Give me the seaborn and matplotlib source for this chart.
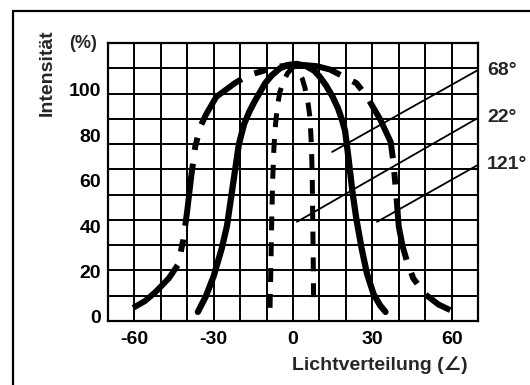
import numpy as np
import pandas as pd
import matplotlib.pyplot as plt
import seaborn as sns
from matplotlib.patches import Rectangle

# values (angle in degrees, intensity in %)
wide_x = [-60.5, -56, -52, -47, -43.5, -41.5, -40, -38.5, -37, -35, -33, -29, -22, -17, -12.5, -7, -1,
          4, 9, 14, 19, 24, 28, 33, 35, 37, 38, 39, 40, 41.5, 43, 45.5, 50, 55, 59.5]
wide_y = [4, 7, 11, 17, 23, 34, 47, 62, 75, 84, 89, 97, 103, 106.5, 108, 110, 111,
          111, 110.5, 109, 106, 103, 97, 87, 82, 77, 68, 55, 40, 31, 25, 17, 10, 5.5, 3]

solid_x = [-36, -33, -30, -27, -25, -22.5, -20.5, -18.5, -16.5, -14.5, -12.5, -10.5, -8, -5, -2, 1.5,
           5, 8, 10, 12.5, 15, 17, 18.5, 19.7, 21, 22.5, 24, 26, 28, 30.5, 33, 35]
solid_y = [2.2, 9, 18, 30, 40, 60, 76, 85, 90.5, 95, 99, 103, 106.5, 109.5, 111, 111.5,
           110.5, 108.5, 106, 102, 97, 92, 87, 82, 70, 55, 43, 30, 19, 10, 5, 2.2]

narrow_x = [-8.7, -8.4, -8.1, -7.7, -7.2, -6.6, -6, -5, -3.5, -2, 0,
            2, 3.5, 4.5, 5.5, 6.4, 7, 7.3, 7.5, 7.7, 7.8]
narrow_y = [4, 20, 40, 60, 75, 85, 92, 99, 104, 107.5, 110,
            108, 105, 101, 96, 88, 75, 60, 40, 20, 4]

x_ticks = [-60, -30, 0, 30, 60]
y_ticks = [0, 20, 40, 60, 80, 100]

# the three beam-angle marker lines and their labels
beam_labels = ["68°", "22°", "121°"]
beam_x = [[14.8, 70], [1.5, 70], [31.8, 70]]
beam_y = [[72.7, 108.8], [41.9, 87.7], [41.9, 67.0]]

sns.set_style("white")
plt.rcParams['font.family'] = ['Liberation Sans', 'DejaVu Sans']
plt.rcParams['lines.scale_dashes'] = False
plt.rcParams['axes.unicode_minus'] = False

fig = plt.figure(figsize=(5.3, 3.85), dpi=100)
ax = fig.add_axes([108 / 530, 1 - 321 / 385, 370 / 530, 278 / 385])

# grid does not line up with the y labels in the original drawing
ax.set_xlim(-70, 70)
ax.set_ylim(-1.8, 120.7)
ax.set_xticks(x_ticks)
ax.set_xticks(np.arange(-70, 71, 10), minor=True)
ax.set_yticks(y_ticks)
ax.set_yticks(np.linspace(-1.8, 120.7, 12)[1:-1], minor=True)
ax.grid(False)
ax.xaxis.grid(True, which='both', color='black', linewidth=1.4)
ax.yaxis.grid(True, which='minor', color='black', linewidth=1.4)
ax.set_axisbelow(True)
ax.tick_params(which='both', length=0, labelsize=14, colors='black')
ax.tick_params(axis='x', pad=7)
ax.tick_params(axis='y', pad=5)
for lab in ax.get_xticklabels() + ax.get_yticklabels():
    lab.set_fontweight('bold')
for s in ax.spines.values():
    s.set_visible(True)
    s.set_color('black')
    s.set_linewidth(1.6)

for bx, by in zip(beam_x, beam_y):
    sns.lineplot(x=bx, y=by, ax=ax, color='black', linewidth=1.3, estimator=None, sort=False)
for bx, by, lab in zip(beam_x, beam_y, beam_labels):
    ax.text(73.5, by[1], lab, fontsize=14, fontweight='bold', ha='left', va='center')

sns.lineplot(x=wide_x, y=wide_y, ax=ax, color='black', linewidth=4.3, estimator=None, sort=False,
             linestyle=(0, (45, 10, 9, 10)))
sns.lineplot(x=solid_x, y=solid_y, ax=ax, color='black', linewidth=4.5, estimator=None, sort=False)
sns.lineplot(x=narrow_x, y=narrow_y, ax=ax, color='black', linewidth=3.6, estimator=None, sort=False,
             linestyle=(0, (10, 8.6)))

ax.set_xlabel('')
ax.set_ylabel('')
fig.text(47 / 530, 1 - 73 / 385, 'Intensität', rotation=90, fontsize=14, fontweight='bold',
         ha='center', va='center')
fig.text(83 / 530, 1 - 43 / 385, '(%)', fontsize=13, fontweight='bold', ha='center', va='center')
fig.text(380 / 530, 1 - 365 / 385, 'Lichtverteilung (∠)', fontsize=14, fontweight='bold',
         ha='center', va='center')

# outer frame of the scanned figure, runs off the right and bottom edge
fig.add_artist(Rectangle((13 / 530, -0.1), 1.2, 1.1 - 11 / 385, transform=fig.transFigure,
                         fill=False, edgecolor='black', linewidth=1.6))

fig.savefig('out.png', dpi=100)
